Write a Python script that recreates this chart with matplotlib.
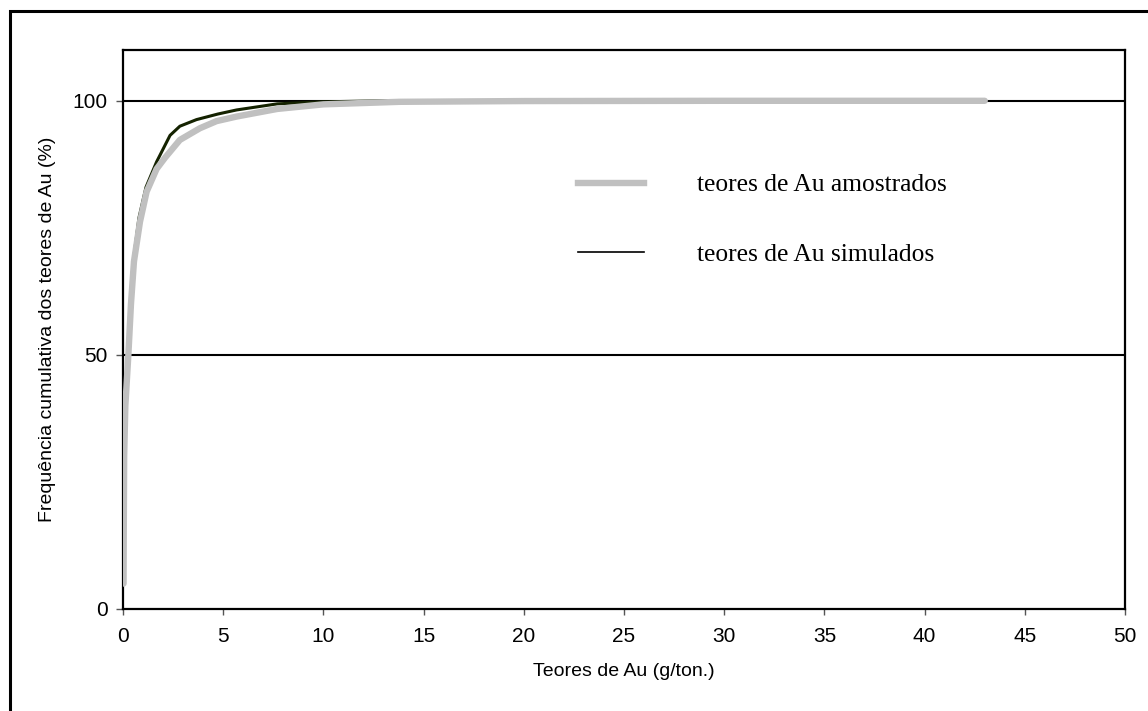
import matplotlib.pyplot as plt
from matplotlib.patches import Rectangle
from matplotlib.lines import Line2D

# cumulative frequency of sampled Au grades (g/ton, %)
amostr_x = [0.03, 0.04, 0.06, 0.12, 0.27, 0.4, 0.55, 0.85, 1.18, 1.68, 2.1, 2.84, 3.84, 4.67,
            5.67, 7.7, 10.0, 13.8, 20.0, 30.0, 43.0]
amostr_y = [5, 15, 30, 40, 50, 60, 68.4, 76.2, 82.1, 86.6, 88.8, 92.3, 94.6, 96.0,
            96.9, 98.4, 99.3, 99.8, 99.95, 100, 100]

# cumulative frequency of simulated Au grades
simul_x = [0.02, 0.05, 0.15, 0.3, 0.5, 0.8, 1.15, 1.68, 2.35, 2.84, 3.67, 4.74, 5.67,
           7.7, 10.0, 13.0, 43.0]
simul_y = [5, 25, 45, 55, 68, 77, 83, 88.0, 93.2, 95.0, 96.3, 97.4, 98.2,
           99.4, 99.8, 100, 100]

x_ticks = [0, 5, 10, 15, 20, 25, 30, 35, 40, 45, 50]
y_ticks = [0, 50, 100]

plt.rcParams['font.family'] = ['Liberation Sans', 'DejaVu Sans']

fig = plt.figure(figsize=(11.48, 7.11), dpi=100)
ax = fig.add_axes([0.1071, 0.1435, 0.8729, 0.7862])

# outer frame of the figure (open to the right and bottom)
fig.patches.append(Rectangle((10 / 1148, -0.1), 1.2, (711 - 11) / 711 + 0.1,
                             transform=fig.transFigure, fill=False,
                             edgecolor='black', linewidth=2.2))

for yv in [50, 100]:
    ax.axhline(yv, color='black', linewidth=1.5, zorder=1)

ax.plot(simul_x, simul_y, color='#142200', linewidth=2.2, zorder=2,
        solid_capstyle='round', solid_joinstyle='round')
ax.plot(amostr_x, amostr_y, color='#c0c0c0', linewidth=4.6, zorder=3,
        solid_capstyle='round', solid_joinstyle='round')

ax.set_xlim(0, 50)
ax.set_ylim(0, 110)
ax.set_xticks(x_ticks)
ax.set_yticks(y_ticks)
ax.tick_params(axis='both', direction='out', labelsize=15, color='#555555')
ax.tick_params(axis='x', length=4, width=1, pad=9)
ax.tick_params(axis='y', length=5, width=1, pad=6)

for s in ax.spines.values():
    s.set_linewidth(1.6)
    s.set_color('black')

ax.set_xlabel('Teores de Au (g/ton.)', fontsize=14, labelpad=12)
ax.set_ylabel('Frequência cumulativa dos teores de Au (%)', fontsize=14, labelpad=12)

handles = [Line2D([], [], color='#c0c0c0', linewidth=4.6),
           Line2D([], [], color='black', linewidth=1.2)]
ax.legend(handles, ['teores de Au amostrados', 'teores de Au simulados'],
          loc='upper left', bbox_to_anchor=(0.431, 0.82), frameon=False,
          prop={'family': 'Liberation Serif', 'size': 18.4},
          handlelength=2.6, handletextpad=2.05, labelspacing=1.82)

fig.savefig('out.png', dpi=100)
